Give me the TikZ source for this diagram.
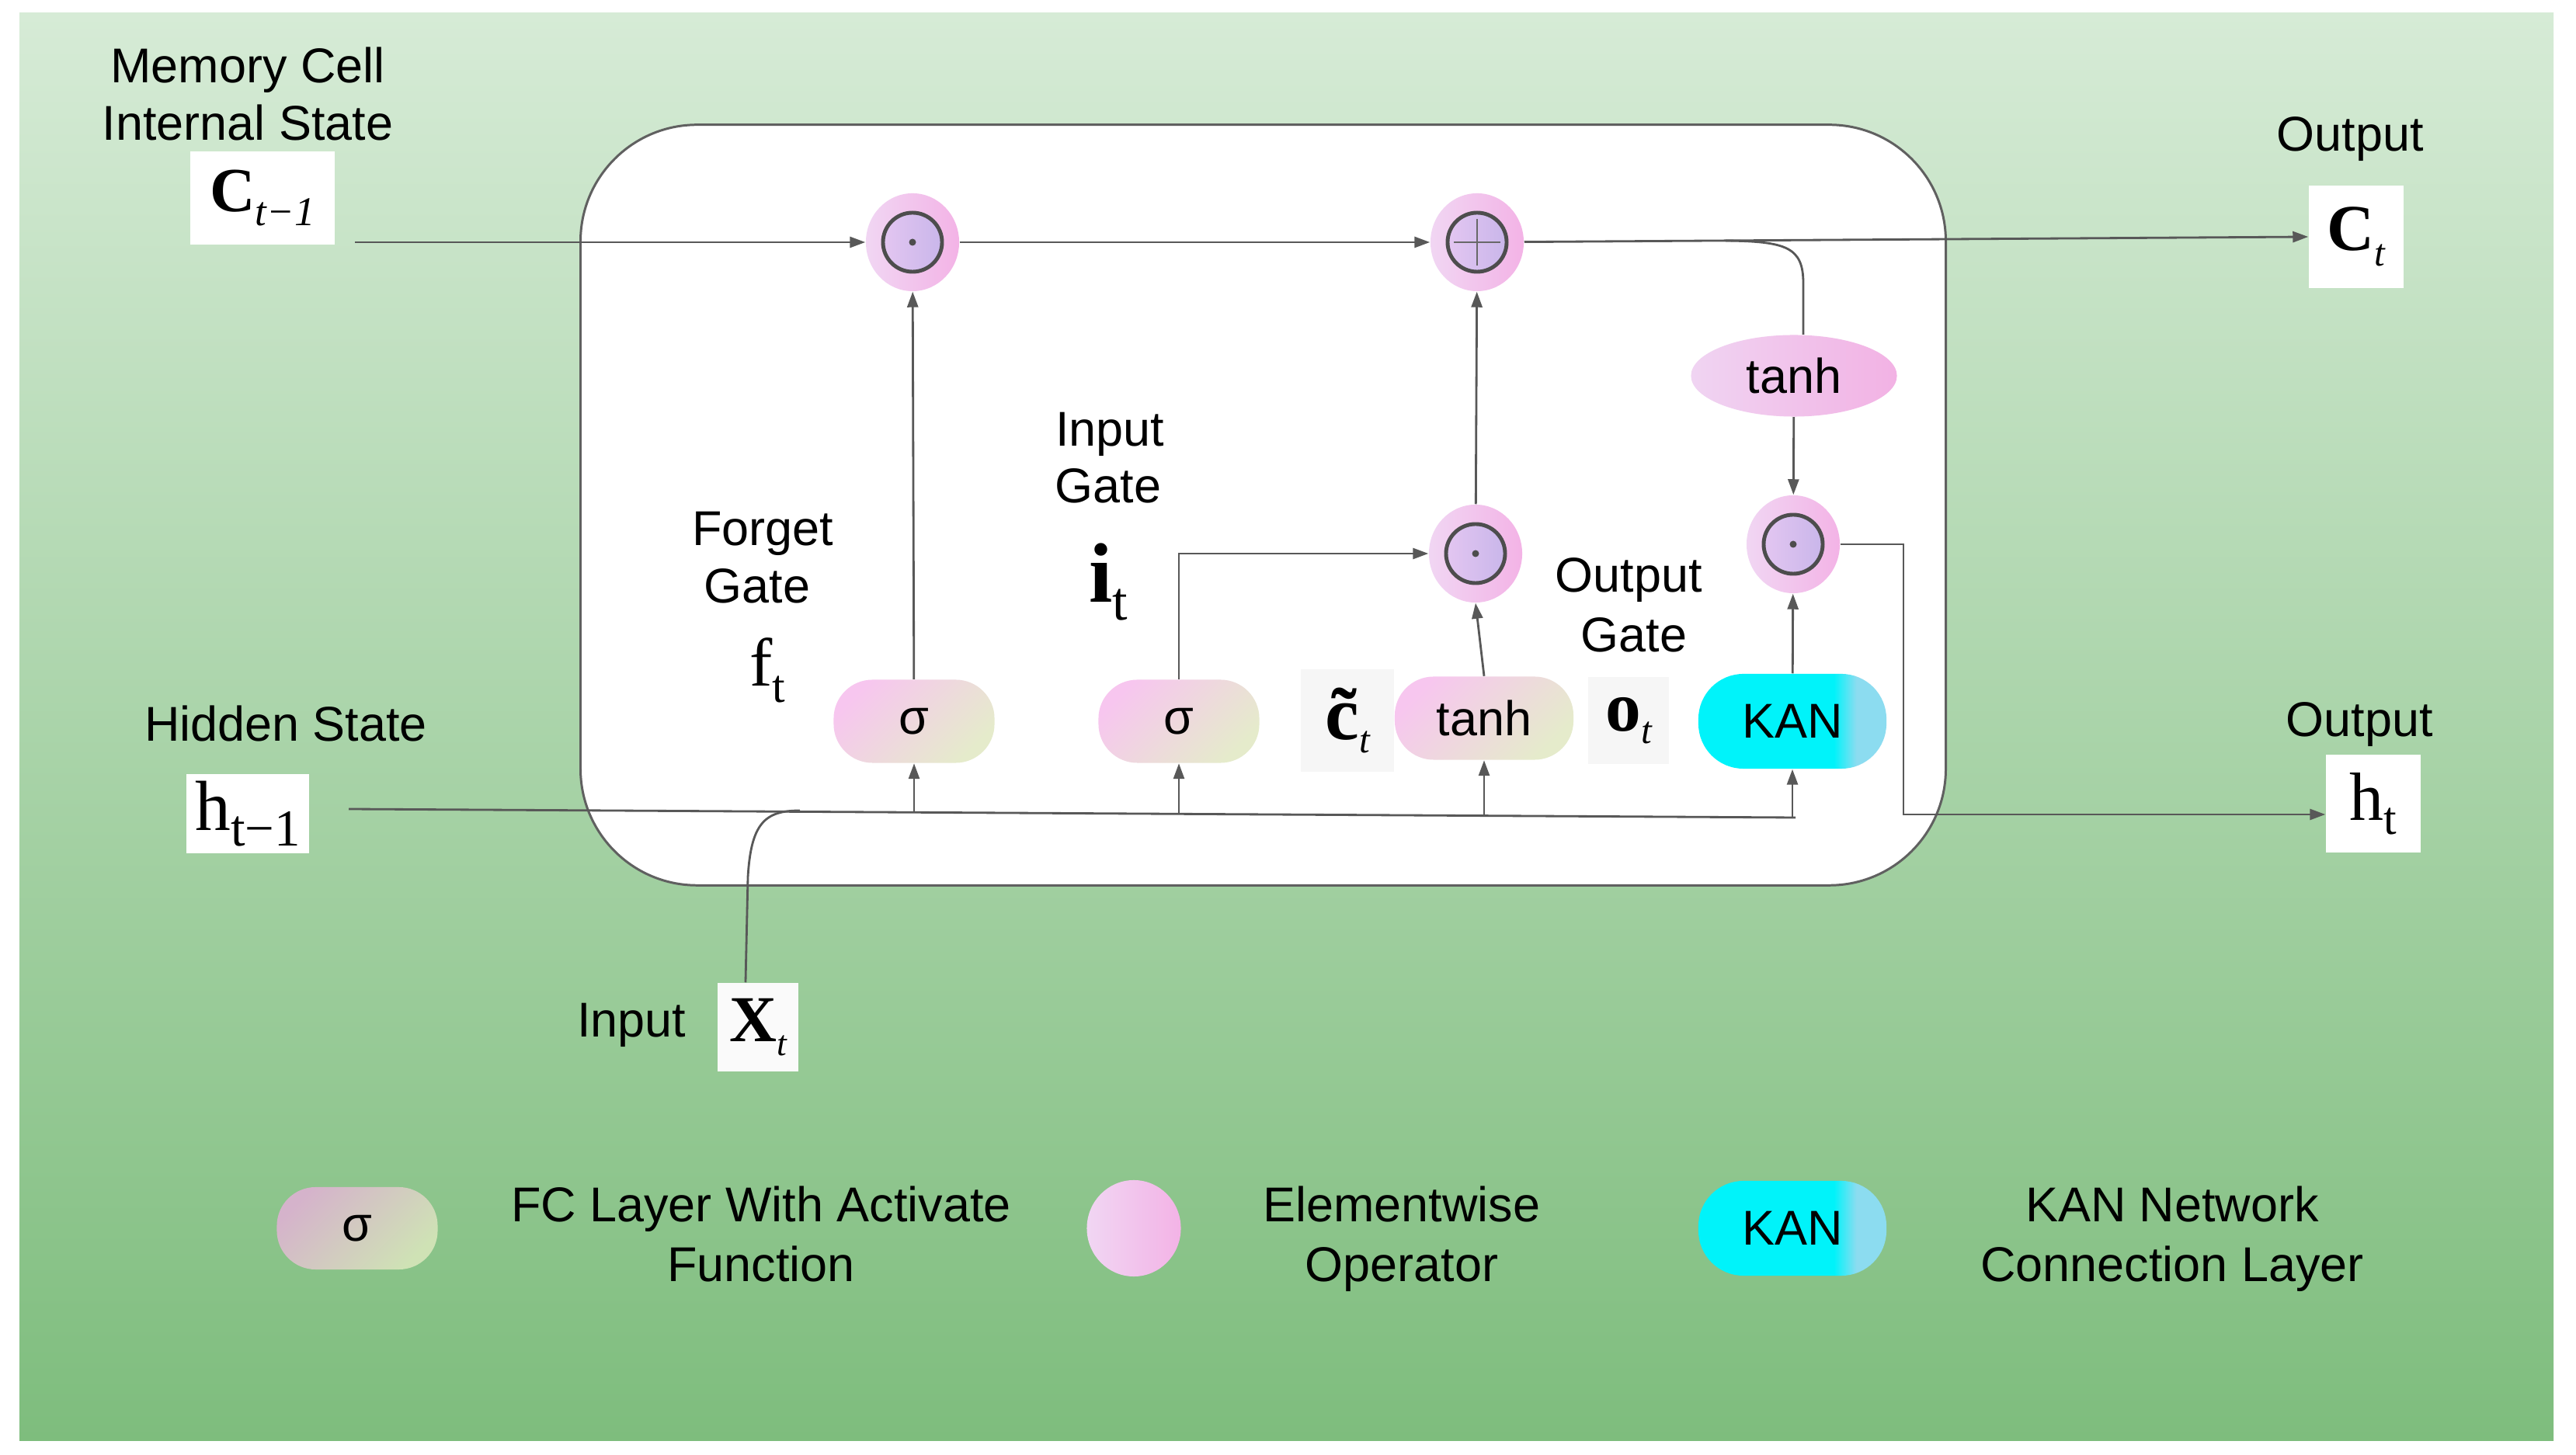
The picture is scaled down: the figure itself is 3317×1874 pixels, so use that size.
\documentclass[tikz,border=0pt]{standalone}
\usepackage{fontspec}
\setmainfont{Liberation Sans}
\newfontfamily\tms{Liberation Serif}
\usetikzlibrary{arrows.meta,shapes.geometric}

\definecolor{bgtop}{HTML}{D6EBD6}
\definecolor{bgbot}{HTML}{7EBD7D}
\definecolor{lnc}{HTML}{585858}
\definecolor{cellc}{HTML}{606060}
\definecolor{sgpink}{HTML}{F7C6EF}
\definecolor{sggreen}{HTML}{E5EBCB}
\definecolor{elL}{HTML}{F1D6F3}
\definecolor{elR}{HTML}{F3B3E6}
\definecolor{inL}{HTML}{E3C6F1}
\definecolor{inR}{HTML}{C9B6EA}
\definecolor{ringc}{HTML}{4D4D4D}
\definecolor{thL}{HTML}{F0D4F2}
\definecolor{thR}{HTML}{F2B2E4}
\definecolor{kcy}{HTML}{00F3FA}
\definecolor{kbl}{HTML}{8CDCF0}
\definecolor{lgsL}{HTML}{D5B3CB}
\definecolor{lgsR}{HTML}{CFE2B5}
\definecolor{boxgray}{HTML}{F6F6F6}

\pgfdeclarehorizontalshading{kanshade}{100bp}{color(0bp)=(kcy); color(25bp)=(kcy); color(61bp)=(kcy); color(67bp)=(kbl); color(75bp)=(kbl); color(100bp)=(kbl)}

\newcommand\fs[1]{\fontsize{#1}{#1}\selectfont}
\newcommand\lowsub[2]{\raisebox{-#1}{#2}}

\tikzset{
  lbl/.style={font=\fs{17.9pt}, inner sep=0pt, anchor=base},
  conn/.style={draw=lnc, line width=0.8pt},
  arr/.style={conn, -{Triangle[length=0.2cm,width=0.14cm]}},
  fcbox/.style={rounded corners=0.5cm, minimum width=2.07cm, minimum height=1.07cm,
    inner sep=0pt, top color=sgpink, bottom color=sggreen, shading angle=45, font=\fs{17.9pt}},
  kanbox/.style={rounded corners=0.58cm, minimum width=2.42cm, minimum height=1.22cm,
    inner sep=0pt, shade, shading=kanshade, font=\fs{17.9pt}},
  elouter/.style={ellipse, minimum width=1.2cm, minimum height=1.26cm, inner sep=0pt,
    left color=elL, right color=elR},
  elinner/.style={circle, minimum size=0.76cm, inner sep=0pt, draw=ringc, line width=1.4pt,
    left color=inL, right color=inR},
  wbox/.style={fill=white, inner sep=0pt},
  gbox/.style={fill=boxgray, inner sep=0pt},
}

\newcommand\elemnode[2]{%
  \node[elouter] (#1) at (#2) {};
  \node[elinner] (#1i) at (#2) {};}

\begin{document}
\begin{tikzpicture}[x=0.01cm,y=-0.01cm]
\useasboundingbox (0,0) rectangle (3317,1874);
\fill[white] (0,0) rectangle (3317,1874);
\shade[top color=bgtop, bottom color=bgbot] (25,17) rectangle (3288,1855);

% cell
\node[draw=cellc, line width=0.85pt, fill=white, rounded corners=1.5cm,
  minimum width=17.57cm, minimum height=9.79cm, inner sep=0pt] (cell) at (1626.5,650.5) {};

% elementwise operators
\elemnode{m1}{1175,312}
\elemnode{pl}{1902,312}
\elemnode{m2}{1900,713}
\elemnode{m3}{2309,701}
\fill[ringc] (m1) circle (0.045cm);
\fill[ringc] (m2) circle (0.045cm);
\fill[ringc] (m3) circle (0.045cm);
\draw[ringc!85, line width=0.5pt] ([xshift=-0.3cm]pl.center) -- ([xshift=0.3cm]pl.center);
\draw[ringc!85, line width=0.5pt] ([yshift=-0.3cm]pl.center) -- ([yshift=0.3cm]pl.center);

% layers
\node[fcbox] (s1) at (1177,929) {σ};
\node[fcbox] (s2) at (1518,929) {σ};
\node[fcbox, minimum width=2.3cm] (t2) at (1911,925) {tanh};
\node[kanbox] (kan) at (2308,929) {KAN};
\node[ellipse, minimum width=2.65cm, minimum height=1.05cm, inner sep=0pt,
  left color=thL, right color=thR, font=\fs{17.9pt}] (th1) at (2310,484) {tanh};

% symbol boxes
\node[gbox, minimum width=1.2cm, minimum height=1.31cm] (ctil) at (1735,928)
  {\tms\fs{28pt}\bfseries \~{c}\lowsub{0.17cm}{\fs{14pt}\mdseries\itshape t}};
\node[gbox, minimum width=1.03cm, minimum height=1.11cm] (ot) at (2097,928)
  {\tms\fs{26pt}\bfseries o\lowsub{0.16cm}{\fs{14pt}\mdseries\itshape t}};
\node[wbox, minimum width=1.85cm, minimum height=1.19cm] (cprev) at (338,255)
  {\tms\fs{23pt}\bfseries C\lowsub{0.17cm}{\fs{15pt}\mdseries\itshape t−1}};
\node[wbox, minimum width=1.22cm, minimum height=1.31cm] (Ct) at (3034,305)
  {\tms\fs{24pt}\bfseries C\lowsub{0.2cm}{\fs{14pt}\mdseries\itshape t}};
\node[wbox, minimum width=1.58cm, minimum height=1.01cm] (hprev) at (319,1048)
  {\tms\fs{26pt}h\lowsub{0.2cm}{\fs{19pt}t−1}};
\node[wbox, minimum width=1.22cm, minimum height=1.26cm] (ht) at (3056,1035)
  {\tms\fs{25pt}h\lowsub{0.18cm}{\fs{17pt}t}};
\node[fill=white!98!black, inner sep=0pt, minimum width=1.04cm, minimum height=1.14cm] (xt) at (976,1323)
  {\tms\fs{24pt}\bfseries X\lowsub{0.18cm}{\fs{13pt}\mdseries\itshape t}};

% text labels
\node[lbl] (memA) at (319,107) {Memory Cell};
\node[lbl] (memB) at (319,181) {Internal State};
\node[lbl] (hid) at (368,955) {Hidden State};
\node[lbl] (fgA) at (982,703) {Forget};
\node[lbl] (fgB) at (975,777) {Gate};
\node[lbl, font=\tms\fs{25pt}] (ft) at (988,884) {f\lowsub{0.2cm}{\fs{17pt}t}};
\node[lbl] (inA) at (1429,575) {Input};
\node[lbl] (inB) at (1427,648) {Gate};
\node[lbl, font=\tms\fs{31pt}] (it) at (1427,776) {\textbf{i}\lowsub{0.22cm}{\fs{20pt}t}};
\node[lbl] (ogA) at (2097,763) {Output};
\node[lbl] (ogB) at (2104,840) {Gate};
\node[lbl] (outC) at (3026,195) {Output};
\node[lbl] (outH) at (3038,949) {Output};
\node[lbl] (inp) at (813,1336) {Input};

% connectors
\coordinate (cs) at (457,312);
\draw[arr] (cs) -- (m1);
\draw[arr] (m1) -- (pl);
\draw[arr] (pl) -- (Ct.west);
\coordinate (br) at (2222,310);
\draw[conn] (br) .. controls (2300,311) and (2322,318) .. (2322,365) -- ([xshift=0.12cm]th1.north);
\draw[arr] (th1) -- (m3);
\draw[arr] (kan) -- (m3);
\coordinate (hline) at (2451,1049);
\draw[arr] (m3.east) -- (m3.east -| hline) -- (hline) -- (hline -| ht.west);

\coordinate (hs) at (449,1042);
\coordinate (he) at (2312,1053);
\draw[conn] (hs) -- (he);
\coordinate (b1) at (1177,1046);
\coordinate (b2) at (1518,1048);
\coordinate (b3) at (1911,1051);
\coordinate (b4) at (2308,1053);
\draw[arr] (b1) -- (s1);
\draw[arr] (b2) -- (s2);
\draw[arr] (b3) -- (t2);
\draw[arr] (b4) -- (kan);
\draw[conn] ([xshift=-0.16cm]xt.north) -- (963,1130) .. controls (967,1060) and (985,1044) .. (1030,1044);

\draw[arr] (s1) -- (m1);
\draw[arr] (s2.north) |- (m2.west);
\draw[arr] (t2.north) -- (m2.south);
\draw[arr] (m2) -- (pl);

% legend
\node[rounded corners=0.5cm, minimum width=2.07cm, minimum height=1.06cm, inner sep=0pt,
  top color=lgsL, bottom color=lgsR, shading angle=45, font=\fs{17.9pt}] (lgs) at (460,1582) {σ};
\node[lbl] (lgsA) at (980,1574) {FC Layer With Activate};
\node[lbl] (lgsB) at (980,1651) {Function};
\node[ellipse, minimum width=1.21cm, minimum height=1.24cm, inner sep=0pt,
  left color=elL, right color=elR] (lge) at (1460,1582) {};
\node[lbl] (lgeA) at (1805,1574) {Elementwise};
\node[lbl] (lgeB) at (1805,1651) {Operator};
\node[kanbox] (lgk) at (2308,1582) {KAN};
\node[lbl] (lgkA) at (2797,1574) {KAN Network};
\node[lbl] (lgkB) at (2797,1651) {Connection Layer};
\end{tikzpicture}
\end{document}
